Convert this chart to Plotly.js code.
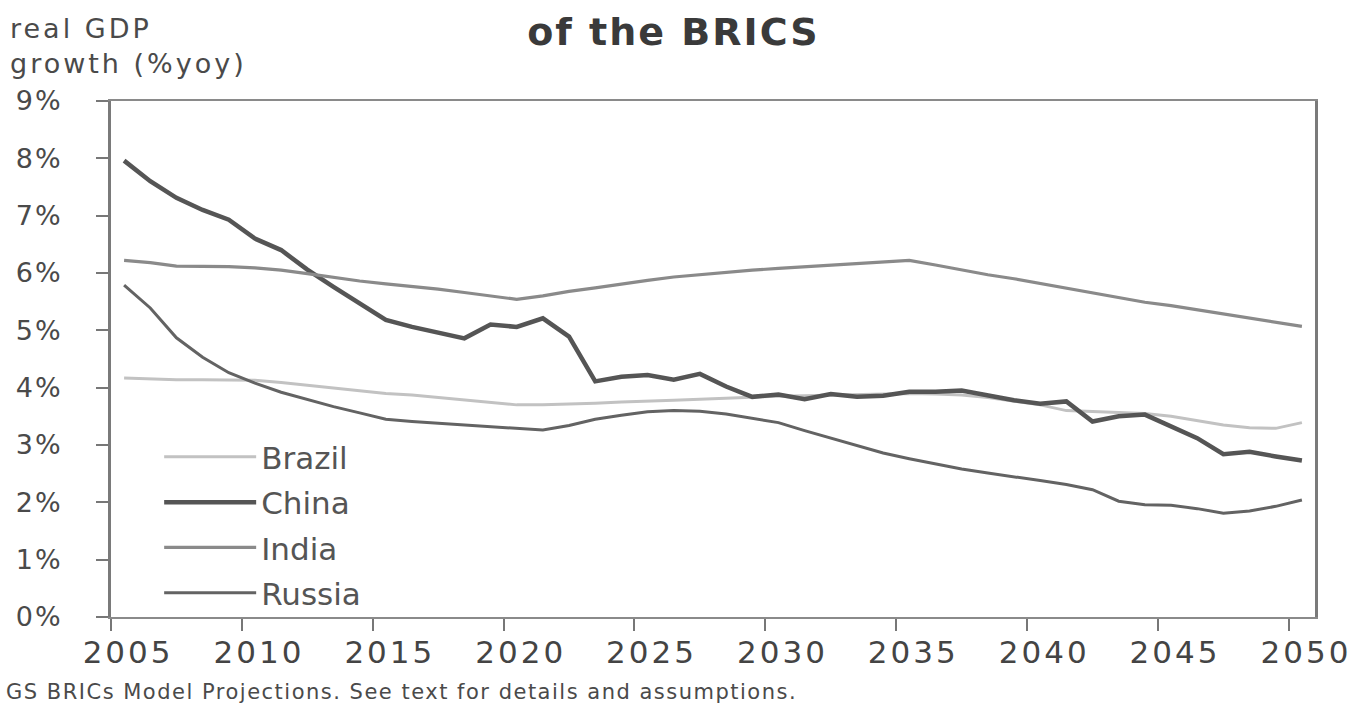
<!DOCTYPE html>
<html>
<head>
<meta charset="utf-8">
<script src="https://cdn.plot.ly/plotly-3.0.1.min.js"></script>
<style>
  html, body { margin: 0; padding: 0; background: #fff; }
  #chart { width: 1355px; height: 706px; }
  /* the reference text is rendered wide: widen with letter spacing */
  #chart text.gtitle { letter-spacing: 2px; }
  #chart g.xtick text { letter-spacing: 3px; }
  #chart g.ytick text { letter-spacing: 2px; }
  #chart g.annotation[data-index="0"] text { letter-spacing: 3px; }
  #chart g.annotation[data-index="1"] text { letter-spacing: 1.5px; }
</style>
</head>
<body>
<div id="chart"></div>
<script>
// ---- data (real GDP growth, % yoy) ----
const years = [2005,2006,2007,2008,2009,2010,2011,2012,2013,2014,2015,2016,2017,2018,2019,2020,2021,2022,2023,2024,2025,2026,2027,2028,2029,2030,2031,2032,2033,2034,2035,2036,2037,2038,2039,2040,2041,2042,2043,2044,2045,2046,2047,2048,2049,2050];

const brazil = [4.17,4.15,4.14,4.14,4.14,4.13,4.09,4.04,3.99,3.94,3.90,3.87,3.83,3.79,3.74,3.70,3.70,3.71,3.73,3.75,3.76,3.78,3.80,3.82,3.84,3.85,3.86,3.87,3.88,3.89,3.90,3.89,3.87,3.83,3.76,3.70,3.60,3.58,3.56,3.55,3.50,3.42,3.35,3.30,3.29,3.39];

const china = [7.96,7.60,7.31,7.10,6.93,6.60,6.40,6.06,5.76,5.48,5.18,5.06,4.95,4.86,5.10,5.06,5.21,4.89,4.11,4.19,4.22,4.14,4.24,4.02,3.84,3.88,3.80,3.89,3.84,3.86,3.93,3.93,3.95,3.87,3.78,3.72,3.76,3.41,3.50,3.53,3.32,3.12,2.84,2.88,2.80,2.73];

const india = [6.22,6.18,6.12,6.12,6.11,6.09,6.05,5.99,5.92,5.86,5.81,5.77,5.72,5.66,5.60,5.54,5.60,5.68,5.74,5.81,5.87,5.93,5.97,6.02,6.05,6.08,6.11,6.14,6.16,6.19,6.22,6.14,6.05,5.97,5.90,5.82,5.74,5.66,5.58,5.49,5.43,5.36,5.28,5.21,5.14,5.07];

const russia = [5.79,5.39,4.87,4.53,4.26,4.08,3.92,3.79,3.67,3.56,3.45,3.41,3.38,3.35,3.31,3.28,3.26,3.34,3.45,3.52,3.58,3.60,3.59,3.54,3.47,3.39,3.25,3.12,2.99,2.86,2.76,2.67,2.58,2.51,2.45,2.38,2.31,2.22,2.02,1.96,1.95,1.89,1.81,1.85,1.93,2.04];

const seriesNames = ['Brazil','China','India','Russia'];
const yTickValues = [0,1,2,3,4,5,6,7,8,9];
const yTickLabels = ['0%','1%','2%','3%','4%','5%','6%','7%','8%','9%'];

const titleText = 'of the BRICS';
const yTitleText = 'real GDP<br>growth (%yoy)';
const footerText = 'GS BRICs Model Projections. See text for details and assumptions.';

// ---- styling ----
const FONT = 'DejaVu Sans, Liberation Sans, Arial, sans-serif';
const styles = {
  Brazil: {color: '#c2c2c2', width: 3},
  China:  {color: '#555555', width: 4.5},
  India:  {color: '#8a8a8a', width: 3.2},
  Russia: {color: '#636363', width: 3}
};
const seriesData = {Brazil: brazil, China: china, India: india, Russia: russia};

const traces = seriesNames.map((name, i) => ({
  type: 'scatter',
  mode: 'lines',
  name: name,
  x: years,
  y: seriesData[name],
  line: {color: styles[name].color, width: styles[name].width},
  legendgroup: name,
  legendrank: i + 1,
  hoverinfo: 'x+y+name'
}));

const layout = {
  width: 1355,
  height: 706,
  margin: {l: 111, r: 40, t: 101, b: 89, pad: 0},
  paper_bgcolor: '#ffffff',
  plot_bgcolor: '#ffffff',
  font: {family: FONT, color: '#444444'},
  title: {
    text: titleText,
    font: {family: FONT, size: 38, color: '#3a3a3a', weight: 'bold'},
    xref: 'container', x: 0.497, xanchor: 'center',
    yref: 'container', y: 0.955, yanchor: 'middle'
  },
  showlegend: true,
  legend: {
    x: 0.04, y: 0.362, xanchor: 'left', yanchor: 'top',
    bgcolor: 'rgba(0,0,0,0)',
    font: {family: FONT, size: 31, color: '#555555'},
    traceorder: 'grouped',
    tracegroupgap: 2,
    itemwidth: 92
  },
  xaxis: {
    type: 'category',
    range: [-0.5, 45.5],
    tickmode: 'linear', tick0: 0, dtick: 5,
    tickson: 'boundaries',
    tickangle: 0,
    ticks: 'outside', ticklen: 12, tickwidth: 2, tickcolor: '#777',
    showline: true, linecolor: '#8a8a8a', linewidth: 2, mirror: true,
    showgrid: false, zeroline: false,
    tickfont: {family: FONT, size: 31, color: '#444'},
    ticklabelstandoff: 7,
    ticklabelshift: 4
  },
  yaxis: {
    range: [0, 9],
    tickmode: 'array', tickvals: yTickValues, ticktext: yTickLabels,
    ticks: 'outside', ticklen: 12, tickwidth: 2, tickcolor: '#777',
    showline: true, linecolor: '#7a7a7a', linewidth: 3, mirror: true,
    showgrid: false, zeroline: false,
    tickfont: {family: FONT, size: 27, color: '#4a4a4a'},
    ticklabelstandoff: 28
  },
  annotations: [
    {
      text: yTitleText, showarrow: false,
      xref: 'paper', x: 0, xshift: -103, xanchor: 'left',
      yref: 'paper', y: 1, yanchor: 'bottom', yshift: 20,
      align: 'left',
      font: {family: FONT, size: 27, color: '#4a4a4a'}
    },
    {
      text: footerText, showarrow: false,
      xref: 'paper', x: 0, xshift: -107, xanchor: 'left',
      yref: 'paper', y: 0, yanchor: 'middle', yshift: -75,
      align: 'left',
      font: {family: FONT, size: 21, color: '#4a4a4a'}
    }
  ]
};

Plotly.newPlot('chart', traces, layout, {displayModeBar: false, responsive: false});
</script>
</body>
</html>
